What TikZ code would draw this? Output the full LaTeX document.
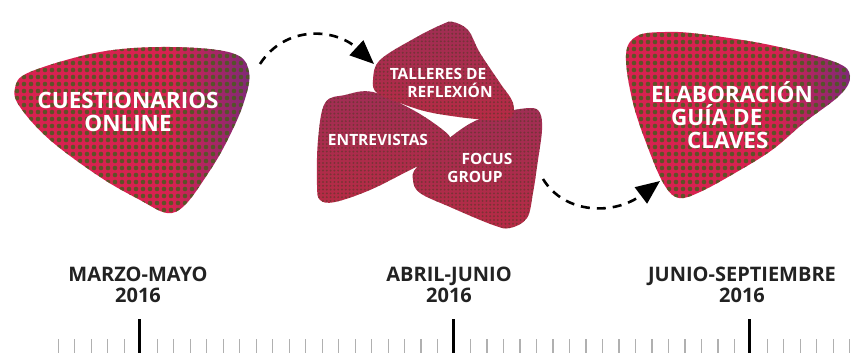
\documentclass[tikz,border=0pt]{standalone}
\usepackage{fontspec}
\setmainfont{Open Sans}
\usetikzlibrary{arrows.meta,patterns.meta}
\definecolor{bigred}{HTML}{D82250}
\definecolor{bigpurple}{HTML}{7E2A78}
\definecolor{bigdot}{HTML}{4A5A20}
\definecolor{midred}{HTML}{B62B45}
\definecolor{midtop}{HTML}{A02E55}
\definecolor{middot}{HTML}{583828}
\definecolor{minorgray}{HTML}{B0B0B0}
\definecolor{darktxt}{HTML}{222222}
\pgfdeclarehorizontalshading{bigshade}{100bp}{color(0bp)=(bigred); color(58bp)=(bigred); color(75bp)=(bigpurple); color(100bp)=(bigpurple)}
\tikzset{
  bigblob/.style={shading=bigshade},
  bigdots/.style={fill=bigdot, fill opacity=0.85},
  midblob/.style={top color=midtop, bottom color=midred,
    postaction={pattern={Dots[radius=1.1pt,distance=3.8pt]}, pattern color=middot, fill opacity=0.6}},
  bigtxt/.style={text=white, font=\fontsize{22.5}{23}\selectfont\bfseries, align=center, inner sep=0pt},
  midtxt/.style={text=white, font=\fontsize{15.5}{18}\selectfont\bfseries, align=center, inner sep=0pt},
  datetxt/.style={text=darktxt, font=\fontsize{20}{21}\selectfont\bfseries, align=center, inner sep=0pt},
  flowarrow/.style={draw=black, line width=2.6pt, dash pattern=on 9pt off 7pt,
    -{Triangle[length=24pt,width=20pt]}},
  minortick/.style={draw=minorgray, line width=1.2pt},
  majortick/.style={draw=black, line width=3pt}
}
\begin{document}
\begin{tikzpicture}[x=1pt,y=-1pt]
\useasboundingbox (0,0) rectangle (852,353);

% big blob left
\def\blobA{plot[smooth cycle, tension=0.6] coordinates {(15,88) (30,72) (100,52) (170,47) (232,53) (249,72) (243,105) (225,145) (207,175) (185,205) (167,213) (140,200) (100,177) (50,140) (20,107)}}
\path[bigblob] \blobA;
\begin{scope}
  \clip \blobA;
  \foreach \i in {0,...,35} { \foreach \j in {0,...,26} {
    \fill[bigdots] ({10+7*\i},{42+7*\j}) circle (2.3pt);
  }}
\end{scope}
% big blob right
\def\blobB{plot[smooth cycle, tension=0.6] coordinates {(626,55) (637,36) (665,32) (700,34) (770,45) (835,62) (850,76) (840,95) (805,122) (772,150) (735,173) (700,192) (679,198) (665,186) (650,153) (633,103)}}
\path[bigblob] \blobB;
\begin{scope}
  \clip \blobB;
  \foreach \i in {0,...,35} { \foreach \j in {0,...,26} {
    \fill[bigdots] ({620+7*\i},{28+7*\j}) circle (2.3pt);
  }}
\end{scope}

% middle blobs
\path[midblob] plot[smooth cycle, tension=0.6] coordinates {(325,103) (345,95) (373,92) (413,110) (443,130) (450,140) (440,155) (410,170) (370,190) (335,202) (320,200) (317,185) (318,140)};
\path[midblob] plot[smooth cycle, tension=0.6] coordinates {(413,180) (417,167) (447,140) (473,122) (500,113) (530,108) (540,113) (542,130) (538,160) (533,193) (527,218) (510,228) (493,225) (450,207) (420,193)};
\path[midblob] plot[smooth cycle, tension=0.6] coordinates {(453,22) (468,30) (480,53) (500,83) (513,103) (510,118) (487,120) (433,113) (400,103) (377,93) (373,80) (380,60) (415,38) (443,24)};

% texts
\node[bigtxt] (cuest) at (128,112) {CUESTIONARIOS\\ONLINE};
\node[bigtxt, align=left] (elab) at (732,115) {ELABORACIÓN\\\hspace*{20pt}GUÍA DE\\\hspace*{36pt}CLAVES};
\node[midtxt] (talleres) at (438,83) {TALLERES DE\\\hspace*{24pt}REFLEXIÓN};
\node[midtxt] (entrev) at (378,140) {ENTREVISTAS};
\node[midtxt] (focus) at (475,168) {\hspace*{24pt}FOCUS\\GROUP};

% arrows
\coordinate (a1s) at (260,64);
\coordinate (a1e) at (374,64);
\draw[flowarrow] (a1s) .. controls (285,25) and (335,28) .. (a1e);
\coordinate (a2s) at (543,179);
\coordinate (a2e) at (660,181);
\draw[flowarrow] (a2s) .. controls (565,215) and (615,215) .. (a2e);

% date labels
\node[datetxt] (d1) at (138,285) {MARZO-MAYO\\2016};
\node[datetxt] (d2) at (449,285) {ABRIL-JUNIO\\2016};
\node[datetxt] (d3) at (742,285) {JUNIO-SEPTIEMBRE\\2016};

% ticks
\foreach \k in {0,...,48} {
  \ifnum\k=5 \else\ifnum\k=24 \else\ifnum\k=42 \else
    \draw[minortick] ({58.3+16.49*\k},339) -- ({58.3+16.49*\k},353);
  \fi\fi\fi
}
\draw[majortick] (139.5,319) -- (139.5,353);
\draw[majortick] (453,319) -- (453,353);
\draw[majortick] (749,319) -- (749,353);
\end{tikzpicture}
\end{document}
